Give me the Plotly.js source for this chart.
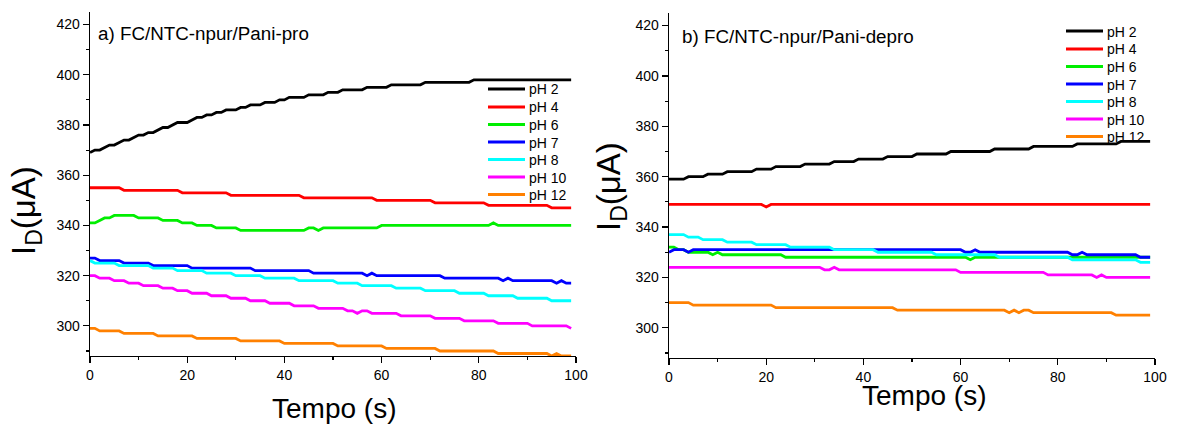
<!DOCTYPE html>
<html><head><meta charset="utf-8">
<script src="https://cdn.plot.ly/plotly-3.0.1.min.js"></script>
<style>html,body{margin:0;padding:0;background:#fff;}#chart{width:1177px;height:426px;}</style>
</head><body><div id="chart"></div>
<script>
// ---------- data ----------
const TIME = [0,1,2,3,4,5,6,7,8,9,10,11,12,13,14,15,16,17,18,19,20,21,22,23,24,25,26,27,28,29,
30,31,32,33,34,35,36,37,38,39,40,41,42,43,44,45,46,47,48,49,50,51,52,53,54,55,56,57,58,59,
60,61,62,63,64,65,66,67,68,69,70,71,72,73,74,75,76,77,78,79,80,81,82,83,84,85,86,87,88,89,
90,91,92,93,94,95,96,97,98,99];
const SERIES_NAMES = ['pH 2','pH 4','pH 6','pH 7','pH 8','pH 10','pH 12'];

// panel a) FC/NTC-npur/Pani-pro
const A_PH2 = [369,370,370,371,372,372,373,374,374,375,
376,376,377,377,378,379,379,380,381,381,
381,382,383,383,384,384,385,385,386,386,
386,387,387,388,388,388,389,389,389,390,
390,391,391,391,391,392,392,392,392,393,
393,393,394,394,394,394,394,395,395,395,
395,395,396,396,396,396,396,396,396,397,
397,397,397,397,397,397,397,397,397,398,
398,398,398,398,398,398,398,398,398,398,
398,398,398,398,398,398,398,398,398,398];
const A_PH4 = [355,355,355,355,355,355,355,354,354,354,
354,354,354,354,354,354,354,354,354,353,
353,353,353,353,353,353,353,353,353,352,
352,352,352,352,352,352,352,352,352,352,
352,352,352,352,351,351,351,351,351,351,
351,351,351,351,351,351,351,351,351,350,
350,350,350,350,350,350,350,350,350,350,
350,349,349,349,349,349,349,349,349,349,
349,349,348,348,348,348,348,348,348,348,
348,348,348,348,348,347,347,347,347,347];
const A_PH6 = [341,341,342,343,343,344,344,344,344,344,
343,343,343,343,343,342,342,342,342,341,
341,341,340,340,340,340,339,339,339,339,
339,338,338,338,338,338,338,338,338,338,
338,338,338,338,338,339,339,338,339,339,
339,339,339,339,339,339,339,339,339,339,
340,340,340,340,340,340,340,340,340,340,
340,340,340,340,340,340,340,340,340,340,
340,340,340,341,340,340,340,340,340,340,
340,340,340,340,340,340,340,340,340,340];
const A_PH7 = [327,327,326,326,326,326,326,325,325,325,
325,325,325,324,324,324,324,324,324,324,
324,323,323,323,323,323,323,323,323,323,
323,323,323,323,322,322,322,322,322,322,
322,322,322,322,322,322,321,321,321,321,
321,321,321,321,321,321,321,320,321,320,
320,320,320,320,320,320,320,320,320,320,
320,320,320,319,319,319,319,319,319,319,
319,319,319,319,319,318,319,318,318,318,
318,318,318,318,318,318,317,318,317,317];
const A_PH8 = [326,325,325,325,325,325,324,324,324,324,
324,324,324,323,323,323,323,323,322,322,
322,322,322,322,321,321,321,321,321,321,
320,320,320,320,320,320,319,319,319,319,
319,319,319,318,318,318,318,318,318,318,
318,317,317,317,317,317,316,316,316,316,
316,316,316,315,315,315,315,315,315,314,
314,314,314,314,314,314,313,313,313,313,
313,313,312,312,312,312,312,312,311,311,
311,311,311,311,311,310,310,310,310,310];
const A_PH10 = [320,320,319,319,319,318,318,318,317,317,
317,316,316,316,316,315,315,315,314,314,
314,313,313,313,313,312,312,312,312,311,
311,311,311,310,310,310,310,309,309,309,
309,309,308,308,308,308,308,307,307,307,
307,307,307,306,306,305,306,306,305,305,
305,305,305,305,304,304,304,304,304,304,
304,303,303,303,303,303,303,302,302,302,
302,302,302,302,301,301,301,301,301,301,
301,300,300,300,300,300,300,300,300,299];
const A_PH12 = [299,299,298,298,298,298,298,297,297,297,
297,297,297,297,296,296,296,296,296,296,
296,296,295,295,295,295,295,295,295,295,
295,294,294,294,294,294,294,294,294,294,
293,293,293,293,293,293,293,293,293,293,
293,292,292,292,292,292,292,292,292,292,
292,291,291,291,291,291,291,291,291,291,
291,291,290,290,290,290,290,290,290,290,
290,290,290,290,289,289,289,289,289,289,
289,289,289,289,289,288,289,288,288,288];

// panel b) FC/NTC-npur/Pani-depro
const B_PH2 = [359,359,359,359,360,360,360,360,361,361,
361,361,362,362,362,362,362,362,363,363,
363,363,364,364,364,364,364,364,365,365,
365,365,365,365,366,366,366,366,366,367,
367,367,367,367,367,368,368,368,368,368,
368,369,369,369,369,369,369,369,370,370,
370,370,370,370,370,370,370,371,371,371,
371,371,371,371,371,372,372,372,372,372,
372,372,372,372,373,373,373,373,373,373,
373,373,373,374,374,374,374,374,374,374];
const B_PH4 = [349,349,349,349,349,349,349,349,349,349,
349,349,349,349,349,349,349,349,349,349,
348,349,349,349,349,349,349,349,349,349,
349,349,349,349,349,349,349,349,349,349,
349,349,349,349,349,349,349,349,349,349,
349,349,349,349,349,349,349,349,349,349,
349,349,349,349,349,349,349,349,349,349,
349,349,349,349,349,349,349,349,349,349,
349,349,349,349,349,349,349,349,349,349,
349,349,349,349,349,349,349,349,349,349];
const B_PH6 = [332,332,331,331,330,330,330,330,330,329,
330,329,329,329,329,329,329,329,329,329,
329,329,329,329,328,328,328,328,328,328,
328,328,328,328,328,328,328,328,328,328,
328,328,328,328,328,328,328,328,328,328,
328,328,328,328,328,328,328,328,328,328,
328,328,327,328,328,328,328,328,328,328,
328,328,328,328,328,328,328,328,328,328,
328,328,328,328,328,328,328,328,328,328,
328,328,328,328,328,328,328,328,328,328];
const B_PH7 = [330,331,331,331,330,331,331,331,331,331,
331,331,331,331,331,331,331,331,331,331,
331,331,331,331,331,331,331,331,331,331,
331,331,331,331,331,331,331,331,331,331,
331,331,331,331,331,331,331,331,331,331,
331,331,331,331,331,331,331,331,331,331,
331,330,330,331,330,330,330,330,330,330,
330,330,330,330,330,330,330,330,330,330,
330,330,330,329,329,330,329,329,329,329,
329,329,329,329,329,329,329,328,328,328];
const B_PH8 = [337,337,337,337,336,336,336,335,335,335,
335,335,334,334,334,334,334,334,333,333,
333,333,333,333,333,332,332,332,332,332,
332,332,332,332,331,331,331,331,331,331,
331,331,331,330,330,330,330,330,330,330,
330,330,330,330,330,329,329,329,329,329,
329,329,329,329,329,329,329,329,328,328,
328,328,328,328,328,328,328,328,328,328,
328,328,328,327,327,327,327,327,327,327,
327,327,327,327,327,327,327,326,326,326];
const B_PH10 = [324,324,324,324,324,324,324,324,324,324,
324,324,324,324,324,324,324,324,324,324,
324,324,324,324,324,324,324,324,324,324,
324,324,323,323,324,323,323,323,323,323,
323,323,323,323,323,323,323,323,323,323,
323,323,323,323,323,323,323,323,323,323,
322,322,322,322,322,322,322,322,322,322,
322,322,322,322,322,322,322,322,321,321,
321,321,321,321,321,321,321,321,320,321,
320,320,320,320,320,320,320,320,320,320];
const B_PH12 = [310,310,310,310,310,309,309,309,309,309,
309,309,309,309,309,309,309,309,309,309,
309,309,308,308,308,308,308,308,308,308,
308,308,308,308,308,308,308,308,308,308,
308,308,308,308,308,308,308,307,307,307,
307,307,307,307,307,307,307,307,307,307,
307,307,307,307,307,307,307,307,307,307,
306,307,306,307,307,306,306,306,306,306,
306,306,306,306,306,306,306,306,306,306,
306,306,305,305,305,305,305,305,305,305];

const X_TICKS = [0,20,40,60,80,100];
const X_MINOR = [10,30,50,70,90];
const Y_TICKS = [300,320,340,360,380,400,420];
const Y_MINOR = [290,310,330,350,370,390,410];
const X_RANGE = [0,100];
const Y_RANGE = [288,425];

// ---------- styles ----------
const COLORS = ['#000000','#ff0000','#00ee00','#0000ff','#00ffff','#ff00ff','#ff8000'];
const FONT = 'Liberation Sans, Arial, Helvetica, sans-serif';
const W = 1177, H = 426;

const panelA = [A_PH2,A_PH4,A_PH6,A_PH7,A_PH8,A_PH10,A_PH12];
const panelB = [B_PH2,B_PH4,B_PH6,B_PH7,B_PH8,B_PH10,B_PH12];

const traces = [];
panelA.forEach((ys,i)=>traces.push({x:TIME,y:ys,type:'scatter',mode:'lines',name:SERIES_NAMES[i],
  xaxis:'x',yaxis:'y',showlegend:false,line:{color:COLORS[i],width:2.8},hoverinfo:'skip'}));
panelB.forEach((ys,i)=>traces.push({x:TIME,y:ys,type:'scatter',mode:'lines',name:SERIES_NAMES[i],
  xaxis:'x2',yaxis:'y2',showlegend:false,line:{color:COLORS[i],width:2.8},hoverinfo:'skip'}));

function axis(tv, mv, rng, extra){
  return Object.assign({
    range:rng, tickmode:'array', tickvals:tv, ticktext:tv.map(String),
    ticks:'outside', ticklen:6, tickwidth:1.2, tickcolor:'#000',
    showline:true, linecolor:'#000', linewidth:1.3,
    showgrid:false, zeroline:false, fixedrange:true,
    tickfont:{family:FONT,size:14,color:'#000'},
    minor:{tickmode:'array', tickvals:mv, ticks:'outside', ticklen:3, tickwidth:1.2, tickcolor:'#000', showgrid:false}
  }, extra);
}
function mirrorAxis(tv, mv, rng, extra){
  const a = axis(tv, mv, rng, extra);
  a.ticks = 'inside'; a.showticklabels = false;
  a.minor = Object.assign({}, a.minor, {ticks:'inside'});
  return a;
}

// legend (drawn as key lines + labels in page coordinates)
const shapes = [], annotations = [];
function addLegend(x0, x1, xText, rowsY){
  SERIES_NAMES.forEach((nm,i)=>{
    shapes.push({type:'line',xref:'paper',yref:'paper',x0:x0/W,x1:x1/W,y0:1-rowsY[i]/H,y1:1-rowsY[i]/H,
      line:{color:COLORS[i],width:3}});
    annotations.push({xref:'paper',yref:'paper',x:xText/W,y:1-(rowsY[i]+0.5)/H,xanchor:'left',yanchor:'middle',
      showarrow:false,text:nm,font:{family:FONT,size:14,color:'#000'}});
  });
}
addLegend(488,525,527,[89,107,124.5,142,159.5,177,194.5]);
addLegend(1066,1103,1105,[31,49,66.5,84,101.5,119,136.5]);

annotations.push(
  {xref:'paper',yref:'paper',x:96/W,y:1-33/H,xanchor:'left',yanchor:'middle',showarrow:false,
   text:'a) FC/NTC-npur/Pani-pro',font:{family:FONT,size:18.8,color:'#000'}},
  {xref:'paper',yref:'paper',x:680/W,y:1-36/H,xanchor:'left',yanchor:'middle',showarrow:false,
   text:'b) FC/NTC-npur/Pani-depro',font:{family:FONT,size:18.8,color:'#000'}},
  {xref:'paper',yref:'paper',x:334/W,y:1-408/H,xanchor:'center',yanchor:'middle',showarrow:false,
   text:'Tempo (s)',font:{family:FONT,size:28,color:'#000'}},
  {xref:'paper',yref:'paper',x:924/W,y:1-395/H,xanchor:'center',yanchor:'middle',showarrow:false,
   text:'Tempo (s)',font:{family:FONT,size:28,color:'#000'}},
  {xref:'paper',yref:'paper',x:26/W,y:1-211/H,xanchor:'center',yanchor:'middle',showarrow:false,textangle:-90,
   text:'I<sub>D</sub>(μA)',font:{family:FONT,size:33,color:'#000'}},
  {xref:'paper',yref:'paper',x:611/W,y:1-187/H,xanchor:'center',yanchor:'middle',showarrow:false,textangle:-90,
   text:'I<sub>D</sub>(μA)',font:{family:FONT,size:33,color:'#000'}}
);

const layout = {
  width:W, height:H, margin:{l:0,r:0,t:0,b:0},
  paper_bgcolor:'#fff', plot_bgcolor:'rgba(0,0,0,0)',
  font:{family:FONT,color:'#000'},
  showlegend:false,
  xaxis: axis(X_TICKS,X_MINOR,X_RANGE,{domain:[90/W,576/W],anchor:'y'}),
  yaxis: axis(Y_TICKS,Y_MINOR,Y_RANGE,{domain:[70/H,1-12/H],anchor:'x'}),
  xaxis2: axis(X_TICKS,X_MINOR,X_RANGE,{domain:[669/W,1155/W],anchor:'y2'}),
  yaxis2: axis(Y_TICKS,Y_MINOR,Y_RANGE,{domain:[68/H,1-13/H],anchor:'x2'}),
  xaxis3: mirrorAxis(X_TICKS,X_MINOR,X_RANGE,{overlaying:'x',side:'top',anchor:'y'}),
  yaxis3: mirrorAxis(Y_TICKS,Y_MINOR,Y_RANGE,{overlaying:'y',side:'right',anchor:'x'}),
  xaxis4: mirrorAxis(X_TICKS,X_MINOR,X_RANGE,{overlaying:'x2',side:'top',anchor:'y2'}),
  yaxis4: mirrorAxis(Y_TICKS,Y_MINOR,Y_RANGE,{overlaying:'y2',side:'right',anchor:'x2'}),
  shapes: shapes,
  annotations: annotations
};

Plotly.newPlot('chart', traces, layout, {staticPlot:true, displayModeBar:false});
</script>
</body></html>
